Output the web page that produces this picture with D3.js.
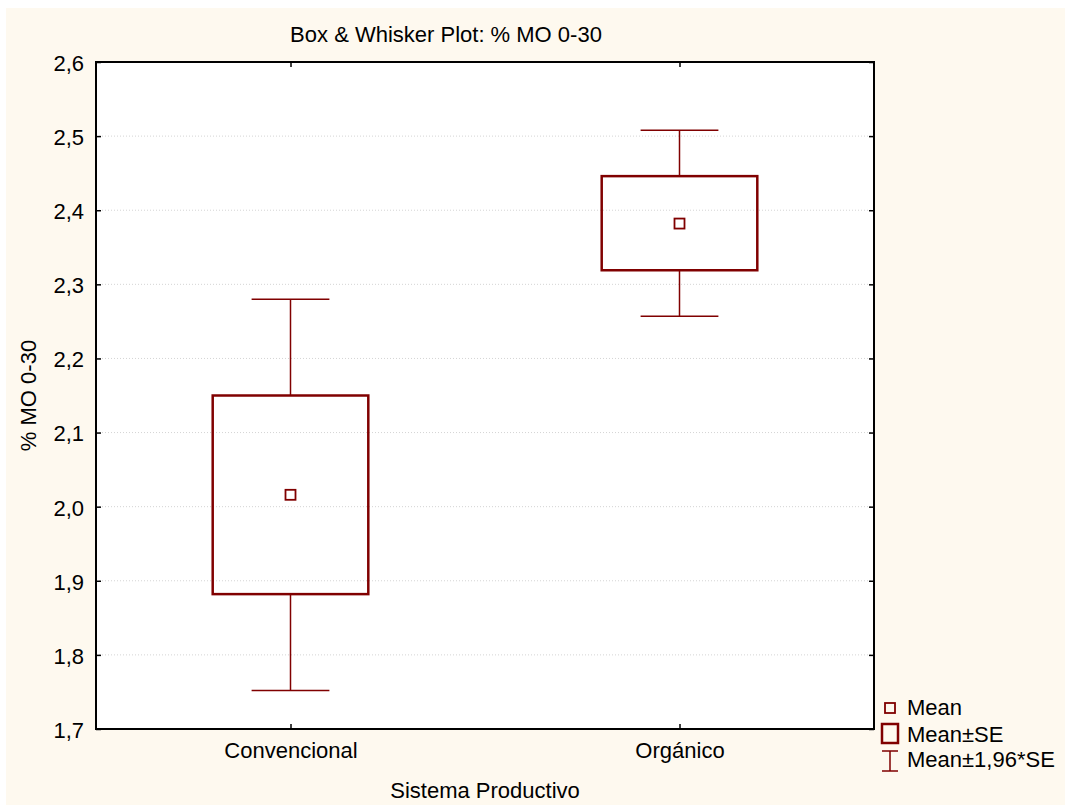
<!DOCTYPE html>
<html>
<head>
<meta charset="utf-8">
<script src="https://cdn.jsdelivr.net/npm/d3@7"></script>
<style>
  body { margin: 0; background: #fff; }
  svg { display: block; font-family: "Liberation Sans", Arial, sans-serif; }
</style>
</head>
<body>
<div id="chart"></div>
<script>
// values
const categories = ["Convencional", "Orgánico"];
const means  = [2.016, 2.382];
const seLow  = [1.882, 2.319];
const seHigh = [2.150, 2.446];
const ciLow  = [1.752, 2.257];
const ciHigh = [2.280, 2.508];
const yTicks = [1.7, 1.8, 1.9, 2.0, 2.1, 2.2, 2.3, 2.4, 2.5, 2.6];
const legendLabels = ["Mean", "Mean±SE", "Mean±1,96*SE"];

const width = 1065, height = 805;
const plot = {left: 96, right: 874, top: 62, bottom: 729};
const boxColor = "#800000";
const fontSize = 22;

const comma = d3.formatLocale({decimal: ",", thousands: ".", grouping: [3], currency: ["", ""]});
const fmt = comma.format(".1f");

const svg = d3.select("#chart").append("svg")
    .attr("width", width).attr("height", height);

svg.append("rect").attr("x", 6).attr("y", 8)
    .attr("width", width - 6).attr("height", height - 8)
    .attr("fill", "#fef9ef");

svg.append("rect")
    .attr("x", plot.left).attr("y", plot.top)
    .attr("width", plot.right - plot.left).attr("height", plot.bottom - plot.top)
    .attr("fill", "#fff");

const y = d3.scaleLinear().domain([1.7, 2.6]).range([plot.bottom, plot.top]);
const x = d3.scalePoint().domain(categories).range([plot.left, plot.right]).padding(0.5);
const plotW = plot.right - plot.left;
const boxW = plotW * 0.2;
const capW = plotW * 0.1;

// dotted grid
svg.append("g").selectAll("line").data(yTicks.slice(1, -1))
    .join("line")
    .attr("x1", plot.left).attr("x2", plot.right)
    .attr("y1", d => y(d)).attr("y2", d => y(d))
    .attr("stroke", "#d4d4d4").attr("stroke-width", 1)
    .attr("stroke-dasharray", "1,2");

// axes
const gLeft = svg.append("g").attr("transform", `translate(${plot.left},0)`)
    .call(d3.axisLeft(y).tickValues(yTicks).tickFormat(fmt).tickSize(-5).tickPadding(12));
const gRight = svg.append("g").attr("transform", `translate(${plot.right},0)`)
    .call(d3.axisRight(y).tickValues(yTicks).tickFormat("").tickSize(-5));
const gTop = svg.append("g").attr("transform", `translate(0,${plot.top})`)
    .call(d3.axisTop(x).tickFormat("").tickSize(-5));
const gBottom = svg.append("g").attr("transform", `translate(0,${plot.bottom})`)
    .call(d3.axisBottom(x).tickSize(-5).tickPadding(13));

[gLeft, gRight, gTop, gBottom].forEach(g => {
    g.select(".domain").remove();
    g.selectAll(".tick line").attr("stroke", "#000").attr("stroke-width", 1.5);
    g.selectAll(".tick text").attr("font-size", fontSize).attr("fill", "#000")
        .attr("font-family", "Liberation Sans, Arial, sans-serif");
});
gLeft.selectAll(".tick text").attr("dy", "0.38em");

svg.append("rect")
    .attr("x", plot.left).attr("y", plot.top)
    .attr("width", plot.right - plot.left).attr("height", plot.bottom - plot.top)
    .attr("fill", "none").attr("stroke", "#000").attr("stroke-width", 2);

// boxes and whiskers
const rows = categories.map((c, i) => ({
    cat: c, mean: means[i], lo: seLow[i], hi: seHigh[i], ciLo: ciLow[i], ciHi: ciHigh[i]
}));

const groups = svg.append("g").selectAll("g").data(rows).join("g");

groups.append("line")
    .attr("x1", d => x(d.cat)).attr("x2", d => x(d.cat))
    .attr("y1", d => y(d.ciHi)).attr("y2", d => y(d.hi))
    .attr("stroke", boxColor).attr("stroke-width", 1.5);
groups.append("line")
    .attr("x1", d => x(d.cat)).attr("x2", d => x(d.cat))
    .attr("y1", d => y(d.lo)).attr("y2", d => y(d.ciLo))
    .attr("stroke", boxColor).attr("stroke-width", 1.5);
groups.append("line")
    .attr("x1", d => x(d.cat) - capW / 2).attr("x2", d => x(d.cat) + capW / 2)
    .attr("y1", d => y(d.ciHi)).attr("y2", d => y(d.ciHi))
    .attr("stroke", boxColor).attr("stroke-width", 1.5);
groups.append("line")
    .attr("x1", d => x(d.cat) - capW / 2).attr("x2", d => x(d.cat) + capW / 2)
    .attr("y1", d => y(d.ciLo)).attr("y2", d => y(d.ciLo))
    .attr("stroke", boxColor).attr("stroke-width", 1.5);
groups.append("rect")
    .attr("x", d => x(d.cat) - boxW / 2).attr("width", boxW)
    .attr("y", d => y(d.hi)).attr("height", d => y(d.lo) - y(d.hi))
    .attr("fill", "none").attr("stroke", boxColor).attr("stroke-width", 2.5);
groups.append("rect")
    .attr("x", d => x(d.cat) - 5).attr("y", d => y(d.mean) - 5)
    .attr("width", 10).attr("height", 10)
    .attr("fill", "#fff").attr("stroke", boxColor).attr("stroke-width", 1.8);

// titles
svg.append("text").attr("x", 446).attr("y", 42).attr("text-anchor", "middle")
    .attr("font-size", fontSize).text("Box & Whisker Plot: % MO 0-30");
svg.append("text").attr("x", (plot.left + plot.right) / 2).attr("y", 798)
    .attr("text-anchor", "middle").attr("font-size", fontSize).text("Sistema Productivo");
svg.append("text")
    .attr("transform", `translate(36,${(plot.top + plot.bottom) / 2}) rotate(-90)`)
    .attr("text-anchor", "middle").attr("font-size", fontSize).text("% MO 0-30");

// legend
const leg = svg.append("g");
leg.append("rect").attr("x", 885).attr("y", 703).attr("width", 10).attr("height", 10)
    .attr("fill", "none").attr("stroke", boxColor).attr("stroke-width", 1.8);
leg.append("rect").attr("x", 882).attr("y", 724).attr("width", 16).attr("height", 19)
    .attr("fill", "none").attr("stroke", boxColor).attr("stroke-width", 2.5);
leg.append("path").attr("d", "M882,751H898M890,751V771M882,771H898")
    .attr("fill", "none").attr("stroke", boxColor).attr("stroke-width", 1.5);
leg.selectAll("text").data(legendLabels).join("text")
    .attr("x", 907).attr("y", (d, i) => [715, 742, 767][i])
    .attr("font-size", fontSize).text(d => d);
</script>
</body>
</html>
